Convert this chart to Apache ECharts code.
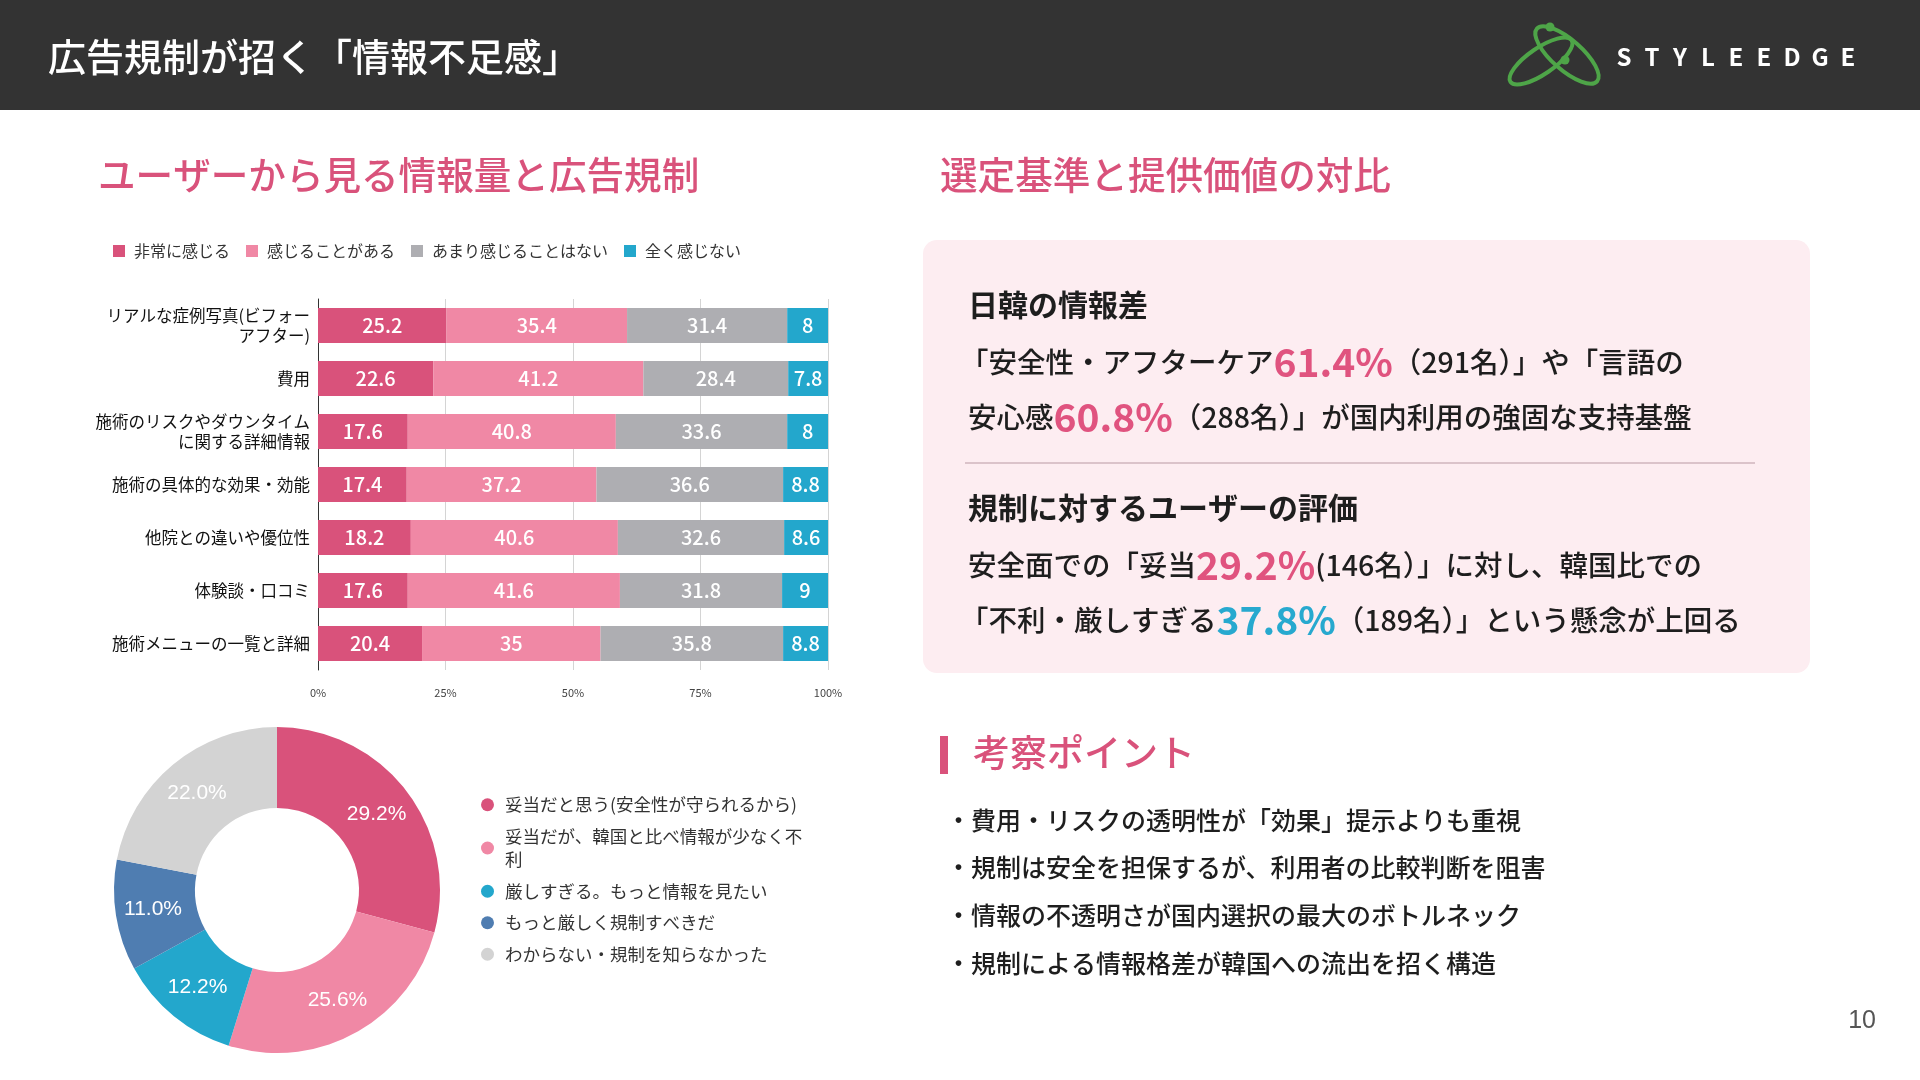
<!DOCTYPE html>
<html><head><meta charset="utf-8">
<script src="https://cdn.jsdelivr.net/npm/echarts@6/dist/echarts.min.js"></script>
<style>html,body{margin:0;padding:0;background:#fff}#c{width:1920px;height:1080px}</style>
</head><body><div id="c"></div>
<script>
// ---- data ----
const categories = [
  'リアルな症例写真(ビフォー\nアフター)',
  '費用',
  '施術のリスクやダウンタイム\nに関する詳細情報',
  '施術の具体的な効果・効能',
  '他院との違いや優位性',
  '体験談・口コミ',
  '施術メニューの一覧と詳細'
];
const seriesNames = ['非常に感じる', '感じることがある', 'あまり感じることはない', '全く感じない'];
const veryMuch   = [25.2, 22.6, 17.6, 17.4, 18.2, 17.6, 20.4];
const sometimes  = [35.4, 41.2, 40.8, 37.2, 40.6, 41.6, 35];
const rarely     = [31.4, 28.4, 33.6, 36.6, 32.6, 31.8, 35.8];
const never      = [8, 7.8, 8, 8.8, 8.6, 9, 8.8];
const xTickStep = 25;

const pieNames = [
  '妥当だと思う(安全性が守られるから)',
  '妥当だが、韓国と比べ情報が少なく不利',
  '厳しすぎる。もっと情報を見たい',
  'もっと厳しく規制すべきだ',
  'わからない・規制を知らなかった'
];
const pieValues = [29.2, 25.6, 12.2, 11.0, 22.0];

const headerTitle = '広告規制が招く「情報不足感」';
const logoText = 'STYLEEDGE';
const leftTitle = 'ユーザーから見る情報量と広告規制';
const rightTitle = '選定基準と提供価値の対比';
const panelHead1 = '日韓の情報差';
const panelHead2 = '規制に対するユーザーの評価';
const panelLines = [
  '「安全性・アフターケア{p|61.4%}（291名）」や「言語の',
  '安心感{p|60.8%}（288名）」が国内利用の強固な支持基盤',
  '安全面での「妥当{p|29.2%}(146名）」に対し、韓国比での',
  '「不利・厳しすぎる{c|37.8%}（189名）」という懸念が上回る'
];
const pointTitle = '考察ポイント';
const points = [
  '・費用・リスクの透明性が「効果」提示よりも重視',
  '・規制は安全を担保するが、利用者の比較判断を阻害',
  '・情報の不透明さが国内選択の最大のボトルネック',
  '・規制による情報格差が韓国への流出を招く構造'
];
const pageNo = '10';

// ---- styles ----
const F = '"Noto Sans CJK JP", "Noto Sans", sans-serif';
const PINK = '#d9527b';
const barColors = ['#d9527b', '#f088a5', '#aeaeb2', '#23a7cc'];
const pieColors = ['#d9527b', '#f088a5', '#23a7cc', '#4f7db1', '#d3d3d3'];

const chart = echarts.init(document.getElementById('c'));

const barData = [veryMuch, sometimes, rarely, never];
const barSeries = seriesNames.map((n, i) => ({
  name: n, type: 'bar', stack: 'total', data: barData[i], barWidth: 35,
  itemStyle: { color: barColors[i] },
  label: { show: true, position: 'inside', color: '#fff', fontSize: 20, fontWeight: 500, fontFamily: F },
  emphasis: { disabled: true }
}));

const panelLineYs = [362, 417, 565, 620];
const pointYs = [820, 867, 915, 963];

const graphics = [
  { type: 'rect', shape: { x: 0, y: 0, width: 1920, height: 110 }, style: { fill: '#333333' }, z: -1 },
  { type: 'text', x: 48, y: 57, style: { text: headerTitle, fill: '#fff', fontSize: 38, fontWeight: 500, fontFamily: F, verticalAlign: 'middle' } },
  { type: 'ellipse', x: 1541, y: 61, rotation: 0.60, shape: { cx: 0, cy: 0, rx: 37, ry: 13 }, style: { fill: 'none', stroke: '#4ea548', lineWidth: 4 } },
  { type: 'ellipse', x: 1567, y: 55, rotation: -0.72, shape: { cx: 0, cy: 0, rx: 40, ry: 15 }, style: { fill: 'none', stroke: '#4ea548', lineWidth: 4 } },
  { type: 'circle', shape: { cx: 1550, cy: 27, r: 4.5 }, style: { fill: '#4ea548' } },
  { type: 'circle', shape: { cx: 1565, cy: 60, r: 4.5 }, style: { fill: '#4ea548' } },
  ...logoText.split('').map((ch, i) => ({
    type: 'text', x: 1624 + i * 28, y: 57,
    style: { text: ch, fill: '#fff', fontSize: 24, fontWeight: 'bold', fontFamily: F, align: 'center', verticalAlign: 'middle' }
  })),
  { type: 'text', x: 98, y: 175, style: { text: leftTitle, fill: PINK, fontSize: 37.6, fontWeight: 500, fontFamily: F, verticalAlign: 'middle' } },
  { type: 'text', x: 940, y: 175, style: { text: rightTitle, fill: PINK, fontSize: 37.6, fontWeight: 500, fontFamily: F, verticalAlign: 'middle' } },
  { type: 'rect', shape: { x: 923, y: 240, width: 887, height: 433, r: 14 }, style: { fill: '#fdedf1' }, z: -1 },
  { type: 'text', x: 968, y: 305, style: { text: panelHead1, fill: '#1e1e1e', fontSize: 30, fontWeight: 'bold', fontFamily: F, verticalAlign: 'middle' } },
  { type: 'text', x: 968, y: 508, style: { text: panelHead2, fill: '#1e1e1e', fontSize: 30, fontWeight: 'bold', fontFamily: F, verticalAlign: 'middle' } },
  { type: 'line', shape: { x1: 965, y1: 463, x2: 1755, y2: 463 }, style: { stroke: '#dbc3ca', lineWidth: 2 } },
  ...panelLines.map((t, i) => ({
    type: 'text', x: t.charAt(0) === '「' ? 960 : 968, y: panelLineYs[i],
    style: {
      text: t, fill: '#1e1e1e', fontSize: 28.5, fontWeight: 500, fontFamily: F, verticalAlign: 'middle',
      rich: {
        p: { fontSize: 39, fontWeight: 'bold', fill: '#e0537f', fontFamily: F, verticalAlign: 'bottom' },
        c: { fontSize: 39, fontWeight: 'bold', fill: '#27a9cf', fontFamily: F, verticalAlign: 'bottom' }
      }
    }
  })),
  { type: 'rect', shape: { x: 940, y: 736, width: 8, height: 38 }, style: { fill: PINK } },
  { type: 'text', x: 973, y: 753, style: { text: pointTitle, fill: PINK, fontSize: 37, fontWeight: 500, fontFamily: F, verticalAlign: 'middle' } },
  ...points.map((t, i) => ({
    type: 'text', x: 946, y: pointYs[i],
    style: { text: t, fill: '#1e1e1e', fontSize: 25, fontWeight: 500, fontFamily: F, verticalAlign: 'middle' }
  })),
  { type: 'text', x: 1876, y: 1021, style: { text: pageNo, fill: '#555', fontSize: 25, fontFamily: '"Liberation Sans", Arial, sans-serif', align: 'right', verticalAlign: 'middle' } }
];

const option = {
  animation: false,
  textStyle: { fontFamily: F },
  legend: [
    {
      data: seriesNames, left: 113, top: 243, padding: 0, icon: 'rect', itemWidth: 12, itemHeight: 12, itemGap: 16,
      textStyle: { fontSize: 16, color: '#333', fontFamily: F, padding: [0, 0, 0, 4] }
    },
    {
      data: pieNames, orient: 'vertical', left: 481, top: 793, padding: 0, icon: 'circle', itemWidth: 13, itemHeight: 13, itemGap: 8,
      textStyle: { fontSize: 17.5, color: '#333', fontFamily: F, lineHeight: 23.5, width: 306, overflow: 'break', padding: [0, 0, 0, 6] }
    }
  ],
  grid: { left: 318, top: 299, width: 510, height: 371 },
  xAxis: {
    type: 'value', min: 0, max: 100, interval: xTickStep,
    axisLabel: { formatter: '{value}%', fontSize: 11, color: '#444', margin: 17 },
    splitLine: { lineStyle: { color: '#d4d4d4' } },
    axisLine: { show: false }, axisTick: { show: false }
  },
  yAxis: {
    type: 'category', data: categories, inverse: true,
    axisLine: { lineStyle: { color: '#333' } }, axisTick: { show: false },
    axisLabel: { fontSize: 16.5, color: '#111', lineHeight: 20, margin: 8, fontFamily: F }
  },
  series: [
    ...barSeries,
    {
      type: 'pie', center: [277, 890], radius: [82, 163], startAngle: 90, clockwise: true,
      data: pieNames.map((n, i) => ({ name: n, value: pieValues[i], itemStyle: { color: pieColors[i] } })),
      label: {
        show: true, position: 'inside', color: '#fff', fontSize: 21,
        fontFamily: '"Liberation Sans", Arial, sans-serif',
        formatter: p => p.value.toFixed(1) + '%'
      },
      labelLine: { show: false },
      emphasis: { disabled: true }
    }
  ],
  graphic: graphics
};
chart.setOption(option);
</script>
</body></html>
